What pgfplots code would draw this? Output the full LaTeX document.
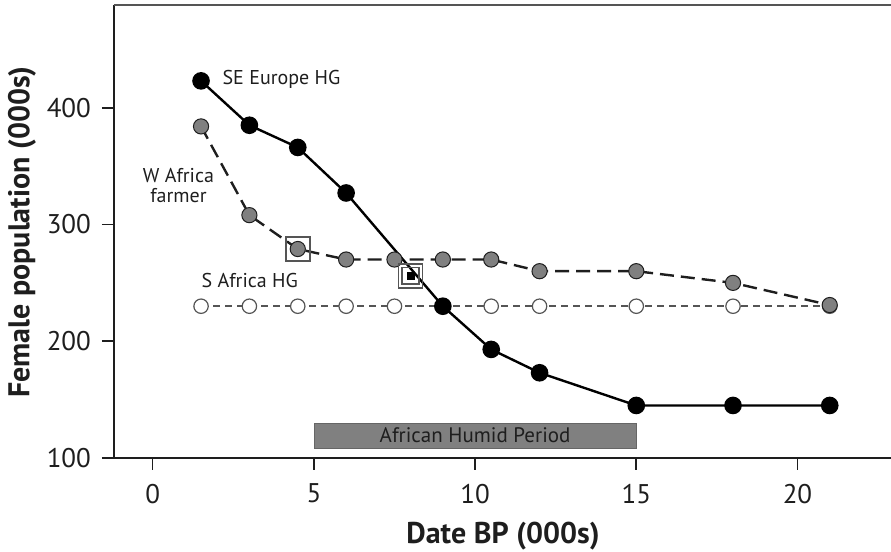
\documentclass[border=0pt]{standalone}
\usepackage{fontspec}
\setmainfont{PT Sans}
\usepackage{pgfplots}
\pgfplotsset{compat=1.18}

\definecolor{txt}{HTML}{1E1E1E}
\definecolor{midgray}{HTML}{808080}
\definecolor{edge}{HTML}{555555}

\begin{document}
\begin{tikzpicture}
  \begin{axis}[
      scale only axis,
      width=388.5pt, height=226.5pt,
      xmin=-1.2, xmax=22.9,
      ymin=100, ymax=488,
      axis x line*=bottom,
      axis y line*=left,
      axis line style={draw=txt, line width=0.8pt, -},
      xtick={0,5,10,15,20},
      ytick={100,200,300,400},
      tick align=outside,
      major tick length=6pt,
      tick style={draw=txt, line width=0.8pt},
      ticklabel style={font=\fontsize{13.5}{16}\selectfont, text=txt},
      /pgf/number format/assume math mode=true,
      xticklabel style={yshift=-3.5pt},
      yticklabel style={xshift=-2pt},
      clip=false,
    ]
    % African Humid Period bar
    \addplot[fill=midgray, draw=midgray!80!black, line width=0.3pt]
      coordinates {(5,108.6) (15,108.6) (15,130) (5,130)} -- cycle;
    \node[font=\fontsize{10.5}{12}\selectfont, text=txt] at (axis cs:10,119.3) {African Humid Period};

    % S Africa HG
    \addplot[edge, line width=1pt, dash pattern=on 3.5pt off 2.5pt,
             mark=*, mark size=3.6pt,
             mark options={solid, fill=white, draw=edge, line width=0.6pt}]
      coordinates {(1.5,230) (3,230) (4.5,230) (6,230) (7.5,230) (9,230)
                   (10.5,230) (12,230) (15,230) (18,230) (21,230)};

    % W Africa farmer
    \addplot[txt, line width=1.2pt, dash pattern=on 7pt off 3.5pt,
             mark=*, mark size=3.8pt,
             mark options={solid, fill=midgray, draw=txt, line width=0.5pt}]
      coordinates {(1.5,384) (3,308) (4.5,279) (6,270) (7.5,270) (9,270)
                   (10.5,270) (12,260) (15,260) (18,250) (21,231)};

    % SE Europe HG
    \addplot[black, line width=1.2pt,
             mark=*, mark size=3.8pt,
             mark options={fill=black, draw=black}]
      coordinates {(1.5,423) (3,385) (4.5,366) (6,327) (9,230)
                   (10.5,193) (12,173) (15,145) (18,145) (21,145)};

    % highlighted points
    \addplot[only marks, mark=square, mark size=6pt,
             mark options={draw=edge, line width=0.8pt}]
      coordinates {(4.5,279) (8,256)};
    \addplot[only marks, mark=square, mark size=4.2pt,
             mark options={draw=edge, line width=0.8pt}]
      coordinates {(8,256)};
    \addplot[only marks, mark=square*, mark size=1.7pt,
             mark options={fill=black, draw=black}]
      coordinates {(8,256)};

    % series labels
    \node[font=\fontsize{10}{12}\selectfont, text=txt, anchor=west] at (axis cs:1.95,424) {SE Europe HG};
    \node[font=\fontsize{10}{11}\selectfont, text=txt, align=center] at (axis cs:0.8,333) {W Africa\\[-1pt]farmer};
    \node[font=\fontsize{10}{12}\selectfont, text=txt, anchor=west] at (axis cs:1.3,252) {S Africa HG};
  \end{axis}

  % top frame line
  \draw[draw=edge, line width=1.3pt] (0,226.5pt) -- (388.5pt,226.5pt);

  % axis titles
  \node[font=\bfseries\fontsize{15}{18}\selectfont, text=txt] at (194.5pt,-39pt) {Date BP (000s)};
  \node[font=\bfseries\fontsize{15}{18}\selectfont, text=txt, rotate=90] at (-46pt,113pt) {Female population (000s)};

  \pgfresetboundingbox
  \path[use as bounding box] (-57pt,-47pt) rectangle (388.5pt,229pt);
\end{tikzpicture}
\end{document}
